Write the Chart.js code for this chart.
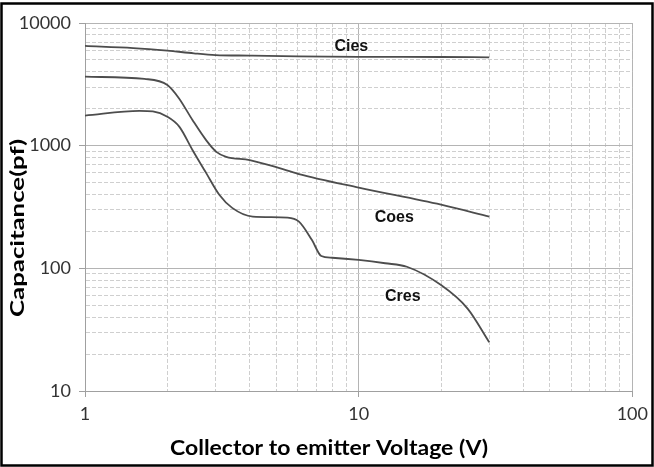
<!DOCTYPE html>
<html><head><meta charset="utf-8">
<script src="https://cdn.jsdelivr.net/npm/chart.js@4/dist/chart.umd.min.js"></script>
<style>html,body{margin:0;padding:0;background:#fff}canvas{display:block}</style>
</head><body>
<canvas id="c" width="654" height="467"></canvas>
<script>
// Data (V in volts, C in pF)
const ciesV = [1, 1.5, 2, 2.5, 3, 4, 6, 10, 20, 30];
const ciesC = [6500, 6250, 5950, 5660, 5480, 5420, 5350, 5300, 5280, 5250];
const coesV = [1, 1.65, 2, 2.2, 2.47, 2.77, 3.02, 3.28, 4, 5.1, 6, 10, 20, 30];
const coesC = [3650, 3500, 3125, 2450, 1620, 1110, 890, 810, 764, 658, 590, 455, 330, 264];
const cresV = [1, 1.58, 1.77, 2, 2.21, 2.47, 2.77, 3.1, 3.45, 4.1, 5.5, 6.05, 6.75, 7.3, 8, 10, 12.5, 15, 20, 25, 30];
const cresC = [1760, 1920, 1900, 1720, 1430, 923, 600, 396, 311, 264, 259, 240, 170, 126, 122, 117, 110, 103, 73, 47, 25];
const seriesNames = ['Cies', 'Coes', 'Cres'];
const labelV = [9.4, 13.5, 14.5];
const labelC = [6370, 258, 58.5];
const xTickValues = [1, 10, 100];
const yTickValues = [10, 100, 1000, 10000];
const xTitle = 'Collector to emitter Voltage (V)';
const yTitle = 'Capacitance(pf)';

function pts(xs, ys) { return xs.map((x, i) => ({x: x, y: ys[i]})); }
function allTicks(lo, hi) {
  const out = [];
  for (let d = lo; d < hi; d *= 10) for (let k = 1; k < 10; k++) out.push(d * k);
  out.push(hi);
  return out;
}
const isPow10 = v => Math.abs(Math.log10(v) - Math.round(Math.log10(v))) < 1e-9;

const lineStyle = {borderColor: '#4d4d4d', borderWidth: 1.8, pointRadius: 0, cubicInterpolationMode: 'monotone', fill: false};

const gridOpts = {
  color: c => (c.tick && c.tick.major) ? '#b4b4b4' : '#cfcfcf',
  lineWidth: 1,
  tickLength: 6,
  tickColor: c => (c.tick && c.tick.major) ? '#a0a0a0' : 'rgba(0,0,0,0)'
};
const borderOpts = {
  display: true, color: '#a0a0a0', width: 1,
  dash: c => (c.tick && !c.tick.major) ? [4, 2] : []
};

function stretchedText(ctx, text, x, y, rot, size, targetLen) {
  ctx.save();
  ctx.font = 'bold ' + size + 'px Lato';
  const w = ctx.measureText(text).width;
  ctx.translate(x, y);
  ctx.rotate(rot);
  ctx.scale(targetLen / w, 1);
  ctx.textAlign = 'center';
  ctx.textBaseline = 'alphabetic';
  ctx.fillStyle = '#000';
  ctx.fillText(text, 0, 0);
  ctx.restore();
}

const labelPlugin = {
  id: 'curveLabels',
  afterDatasetsDraw(chart) {
    const {ctx, scales: {x, y}} = chart;
    ctx.save();
    ctx.font = 'bold 16px "Liberation Sans"';
    ctx.fillStyle = '#111';
    ctx.textAlign = 'center';
    ctx.textBaseline = 'middle';
    seriesNames.forEach((n, i) => {
      ctx.fillText(n, x.getPixelForValue(labelV[i]), y.getPixelForValue(labelC[i]));
    });
    ctx.restore();
    stretchedText(ctx, yTitle, 24, 228, -Math.PI / 2, 19, 178);
    stretchedText(ctx, xTitle, 329, 455, 0, 20, 318);
  },
  afterDraw(chart) {
    const ctx = chart.ctx;
    ctx.save();
    ctx.strokeStyle = '#000';
    ctx.lineWidth = 2.5;
    ctx.strokeRect(1.5, 3.5, 651, 462);
    ctx.restore();
  }
};

new Chart(document.getElementById('c'), {
  type: 'line',
  data: {
    datasets: [
      Object.assign({label: seriesNames[0], data: pts(ciesV, ciesC)}, lineStyle),
      Object.assign({label: seriesNames[1], data: pts(coesV, coesC)}, lineStyle),
      Object.assign({label: seriesNames[2], data: pts(cresV, cresC)}, lineStyle)
    ]
  },
  options: {
    responsive: false,
    animation: false,
    events: [],
    layout: {padding: {left: 0, top: 23, right: 17, bottom: 0}},
    plugins: {legend: {display: false}, tooltip: {enabled: false}},
    scales: {
      x: {
        type: 'logarithmic', min: 1, max: 100,
        afterBuildTicks: s => { s.ticks = allTicks(1, 100).map(v => ({value: v, major: isPow10(v)})); },
        afterFit: s => { s.height = 76; },
        ticks: {
          autoSkip: false, maxRotation: 0, padding: 6, color: '#333',
          font: {family: 'Lato', size: 18},
          callback: v => xTickValues.includes(v) ? String(v) : ''
        },
        grid: gridOpts, border: borderOpts,
        title: {display: false}
      },
      y: {
        type: 'logarithmic', min: 10, max: 10000,
        afterBuildTicks: s => { s.ticks = allTicks(10, 10000).map(v => ({value: v, major: isPow10(v)})); },
        afterFit: s => { s.width = 85; },
        ticks: {
          autoSkip: false, padding: 8, color: '#333',
          font: {family: 'Lato', size: 18},
          callback: v => yTickValues.includes(v) ? String(v) : ''
        },
        grid: gridOpts, border: borderOpts,
        title: {display: false}
      }
    }
  },
  plugins: [labelPlugin]
});
</script>
</body></html>
